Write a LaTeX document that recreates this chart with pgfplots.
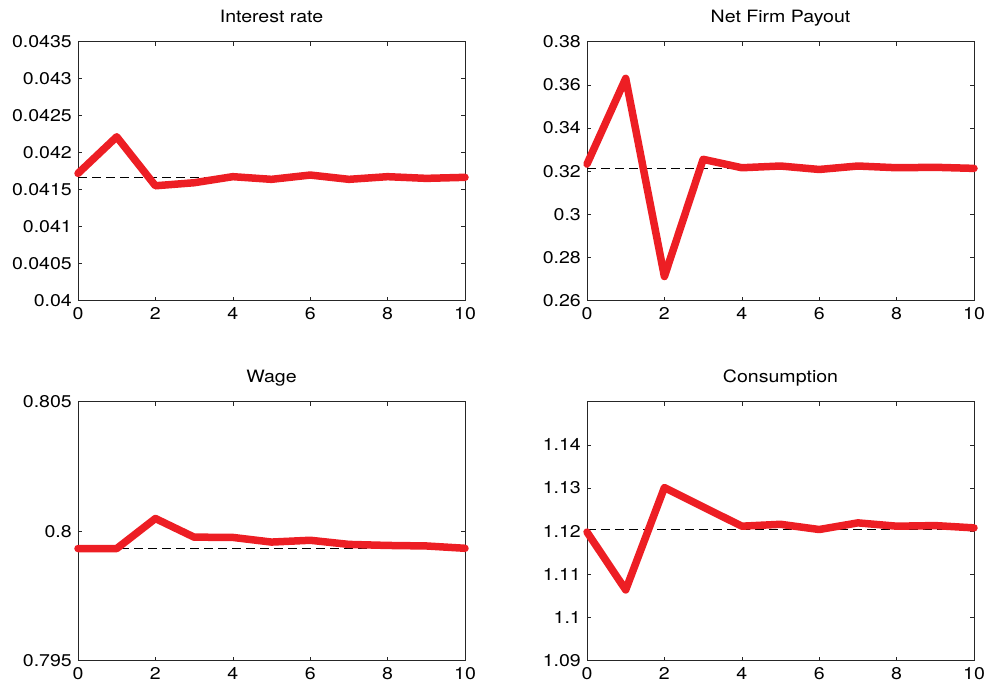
\documentclass[border=0pt]{standalone}
\usepackage{pgfplots}
\pgfplotsset{compat=1.18}
\usepackage{fontspec}
\setmainfont{TeX Gyre Heros}[FakeStretch=1.15]

\definecolor{irfred}{RGB}{237,30,36}

\pgfplotsset{
  irf/.style={
    scale only axis,
    width=387bp, height=259bp,
    xmin=0, xmax=10,
    xtick={0,2,4,6,8,10},
    tick align=inside,
    major tick length=4bp,
    axis line style={line width=0.8bp, black!85},
    tick style={line width=0.6bp, black!85},
    every tick label/.append style={font=\fontsize{17bp}{19bp}\selectfont, inner sep=0pt},
    /pgf/number format/assume math mode=true,
    xticklabel shift=6.5bp,
    yticklabel shift=6bp,
    scaled y ticks=false,
    title style={at={(0.5,1)}, anchor=base, yshift=13.5bp, inner sep=0pt,
                 font=\fontsize{17bp}{19bp}\selectfont},
    clip=false,
  },
  path/.style={irfred, line width=7.5bp, line join=round, line cap=round},
  steady/.style={black, line width=0.6bp, dash pattern=on 9bp off 5bp},
}

\begin{document}
\begin{tikzpicture}
\useasboundingbox (0,0) rectangle (987bp,683bp);

% Interest rate
\begin{axis}[irf, at={(78bp,382.3bp)}, anchor=south west,
  title={Interest rate},
  ymin=0.04, ymax=0.0435,
  ytick={0.04,0.0405,0.041,0.0415,0.042,0.0425,0.043,0.0435},
  yticklabel style={/pgf/number format/.cd, fixed, precision=4}]
\addplot[steady] coordinates {(0,0.0416667) (10,0.0416667)};
\addplot[path] coordinates {
  (0,0.04172) (1,0.042215) (2,0.041553) (3,0.041594) (4,0.041676)
  (5,0.041640) (6,0.041698) (7,0.041640) (8,0.041676) (9,0.041653) (10,0.041667)};
\end{axis}

% Net firm payout
\begin{axis}[irf, at={(587bp,382.3bp)}, anchor=south west,
  title={Net Firm Payout},
  ymin=0.26, ymax=0.38,
  ytick={0.26,0.28,0.30,0.32,0.34,0.36,0.38},
  yticklabel style={/pgf/number format/.cd, fixed, precision=2}]
\addplot[steady] coordinates {(0,0.3213) (10,0.3213)};
\addplot[path] coordinates {
  (0,0.3233) (1,0.3630) (2,0.2712) (3,0.3255) (4,0.3216)
  (5,0.3224) (6,0.3208) (7,0.3224) (8,0.3216) (9,0.3218) (10,0.3213)};
\end{axis}

% Wage
\begin{axis}[irf, at={(78bp,22.3bp)}, anchor=south west,
  title={Wage},
  ymin=0.795, ymax=0.805,
  ytick={0.795,0.8,0.805},
  yticklabel style={/pgf/number format/.cd, fixed, precision=3}]
\addplot[steady] coordinates {(0,0.79933) (10,0.79933)};
\addplot[path] coordinates {
  (0,0.79933) (1,0.79933) (2,0.80049) (3,0.79977) (4,0.79976)
  (5,0.79958) (6,0.79965) (7,0.79949) (8,0.79945) (9,0.79943) (10,0.79934)};
\end{axis}

% Consumption
\begin{axis}[irf, at={(587bp,22.3bp)}, anchor=south west,
  title={Consumption},
  ymin=1.09, ymax=1.15,
  ytick={1.09,1.10,1.11,1.12,1.13,1.14},
  yticklabel style={/pgf/number format/.cd, fixed, precision=2}]
\addplot[steady] coordinates {(0,1.12054) (10,1.12054)};
\addplot[path] coordinates {
  (0,1.1198) (1,1.1064) (2,1.1301) (3,1.12563) (4,1.12116)
  (5,1.1216) (6,1.12039) (7,1.12193) (8,1.12116) (9,1.1213) (10,1.12077)};
\end{axis}
\end{tikzpicture}
\end{document}
